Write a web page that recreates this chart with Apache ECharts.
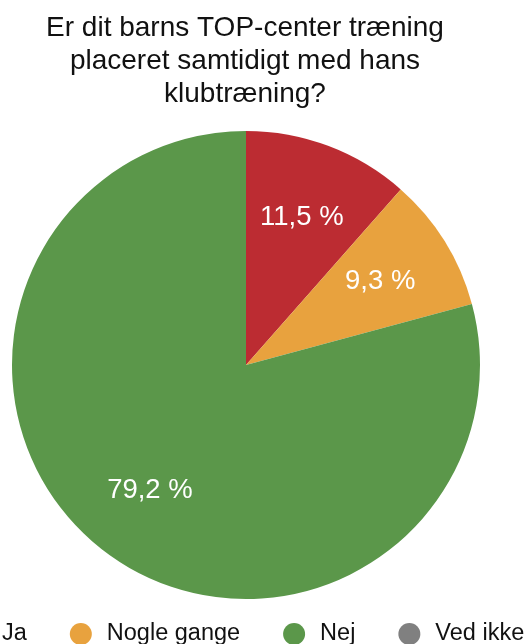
<!DOCTYPE html>
<html>
<head>
<meta charset="utf-8">
<script src="https://cdn.jsdelivr.net/npm/echarts@6/dist/echarts.min.js"></script>
<style>
html,body{margin:0;padding:0;background:#fff;}
#chart{width:524px;height:644px;}
</style>
</head>
<body>
<div id="chart"></div>
<script>
const titleText = 'Er dit barns TOP-center træning\nplaceret samtidigt med hans\nklubtræning?';
const categories = ['Ja', 'Nogle gange', 'Nej', 'Ved ikke'];
const percentages = [11.5, 9.3, 79.2, 0];
const colors = ['#bc2c32', '#e8a23e', '#5b974a', '#808080'];

const FONT = '"Liberation Sans", Arial, Helvetica, sans-serif';
const pieData = categories.map((c, i) => ({ name: c, value: percentages[i], itemStyle: { color: colors[i] } }));

const chart = echarts.init(document.getElementById('chart'), null, { renderer: 'canvas' });
chart.setOption({
  backgroundColor: '#fff',
  animation: false,
  color: colors,
  title: {
    text: titleText,
    left: 245,
    top: 12,
    padding: 0,
    textAlign: 'center',
    textStyle: { fontFamily: FONT, fontSize: 28, lineHeight: 33, fontWeight: 'normal', color: '#111' }
  },
  legend: {
    data: categories,
    orient: 'horizontal',
    left: -35,
    width: 800,
    top: 622,
    padding: 0,
    icon: 'circle',
    itemWidth: 22,
    itemHeight: 22,
    itemGap: 43,
    textStyle: { fontFamily: FONT, fontSize: 23.5, color: '#111', padding: [0, 0, 0, 10] }
  },
  series: [
    {
      type: 'pie',
      center: [246, 365],
      radius: [0, 234],
      startAngle: 90,
      clockwise: true,
      label: { show: false },
      labelLine: { show: false },
      itemStyle: { borderWidth: 0 },
      emphasis: { disabled: true },
      data: pieData
    },
    {
      type: 'pie',
      center: [246, 365],
      radius: [76, 234],
      startAngle: 90,
      clockwise: true,
      silent: true,
      legendHoverLink: false,
      itemStyle: { color: 'rgba(0,0,0,0)', borderWidth: 0 },
      label: {
        show: true,
        position: 'inside',
        fontFamily: FONT,
        fontSize: 27.5,
        color: '#fff',
        padding: [12, 0, 0, 0],
        formatter: p => p.value > 0 ? String(p.value.toFixed(1)).replace('.', ',') + ' %' : ''
      },
      labelLine: { show: false },
      emphasis: { disabled: true },
      data: categories.map((c, i) => ({ name: c, value: percentages[i] }))
    }
  ]
});
</script>
</body>
</html>
